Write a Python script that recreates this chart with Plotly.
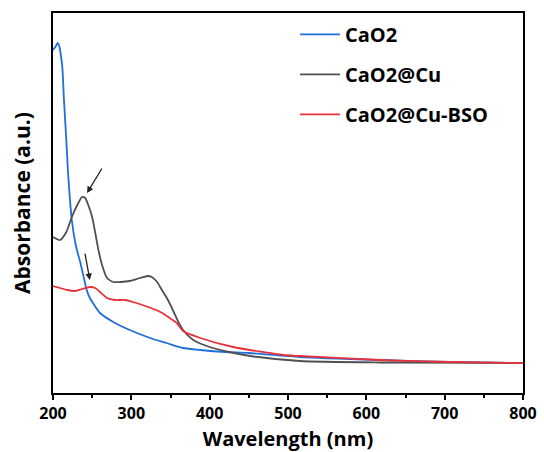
import plotly.graph_objects as go

# CaO2
wl_cao2 = [200, 203, 206, 208, 210, 212, 214, 217, 219, 224, 229, 235, 240, 243, 247, 251, 260, 277, 298, 324, 345, 366, 388, 420, 450, 515, 617, 707, 800]
abs_cao2 = [3.43, 3.46, 3.50, 3.47, 3.38, 3.25, 2.93, 2.53, 2.23, 1.73, 1.48, 1.30, 1.13, 1.03, 0.95, 0.90, 0.80, 0.71, 0.63, 0.55, 0.50, 0.45, 0.43, 0.41, 0.40, 0.36, 0.33, 0.31, 0.30]

# CaO2@Cu
wl_cu = [200, 209, 217, 224, 231, 237, 241, 245, 250, 254, 258, 263, 269, 277, 286, 298, 311, 321, 326, 333, 339, 346, 353, 360, 366, 379, 400, 425, 452, 515, 617, 800]
abs_cu = [1.56, 1.53, 1.61, 1.76, 1.88, 1.96, 1.95, 1.88, 1.76, 1.60, 1.43, 1.27, 1.15, 1.11, 1.11, 1.12, 1.15, 1.17, 1.16, 1.11, 1.03, 0.94, 0.83, 0.71, 0.63, 0.53, 0.46, 0.41, 0.37, 0.32, 0.305, 0.30]

# CaO2@Cu-BSO
wl_bso = [200, 209, 218, 228, 237, 247, 254, 260, 269, 279, 292, 302, 318, 337, 349, 358, 366, 388, 430, 494, 515, 617, 707, 800]
abs_bso = [1.07, 1.05, 1.03, 1.02, 1.04, 1.06, 1.05, 1.01, 0.95, 0.93, 0.93, 0.91, 0.87, 0.81, 0.75, 0.70, 0.62, 0.55, 0.46, 0.38, 0.37, 0.33, 0.31, 0.30]

names = ["CaO2", "CaO2@Cu", "CaO2@Cu-BSO"]
colors = ["#1f6fd9", "#505050", "#e8323a"]
x_ticks = [200, 300, 400, 500, 600, 700, 800]

fig = go.Figure()
for i, (xs, ys) in enumerate([(wl_cao2, abs_cao2), (wl_cu, abs_cu), (wl_bso, abs_bso)]):
    fig.add_trace(go.Scatter(x=xs, y=ys, mode="lines", name=names[i],
                             line=dict(color=colors[i], width=1.8, shape="spline", smoothing=0.6),
                             legendgroup=str(i)))

# arrows
fig.add_annotation(x=243.4, y=2.0, ax=263.6, ay=2.26, xref="x", yref="y", axref="x", ayref="y",
                   text="", showarrow=True, arrowhead=2, arrowsize=1, arrowwidth=1.3, arrowcolor="#222")
fig.add_annotation(x=247, y=1.13, ax=240.5, ay=1.41, xref="x", yref="y", axref="x", ayref="y",
                   text="", showarrow=True, arrowhead=2, arrowsize=1, arrowwidth=1.3, arrowcolor="#222")

fig.update_layout(
    width=544, height=452,
    margin=dict(l=53, r=21, t=13, b=59),
    paper_bgcolor="white", plot_bgcolor="white",
    font=dict(family="Open Sans", color="black"),
    showlegend=True,
    legend=dict(x=0.515, y=0.995, xanchor="left", yanchor="top", bgcolor="rgba(0,0,0,0)",
                font=dict(size=20, family="Open Sans", weight="bold"), tracegroupgap=11,
                itemwidth=40),
    xaxis=dict(range=[200, 800], tickvals=x_ticks, ticks="outside", ticklen=5, tickwidth=2,
               tickcolor="black", showline=True, linewidth=2, linecolor="black", mirror=True,
               showgrid=False, zeroline=False, automargin=False,
               tickfont=dict(size=16, family="Open Sans", weight="bold"),
               minor=dict(dtick=50, ticks="outside", ticklen=3, tickwidth=2, tickcolor="black", showgrid=False),
               title=dict(text="Wavelength (nm)", font=dict(size=20, family="Open Sans", weight="bold"))),
    yaxis=dict(range=[0, 3.8], showticklabels=False, ticks="", showline=True, linewidth=2,
               linecolor="black", mirror=True, showgrid=False, zeroline=False, automargin=False,
               title=dict(text="Absorbance (a.u.)", font=dict(size=21, family="Open Sans", weight="bold"))),
)

fig.write_html("out.html")
